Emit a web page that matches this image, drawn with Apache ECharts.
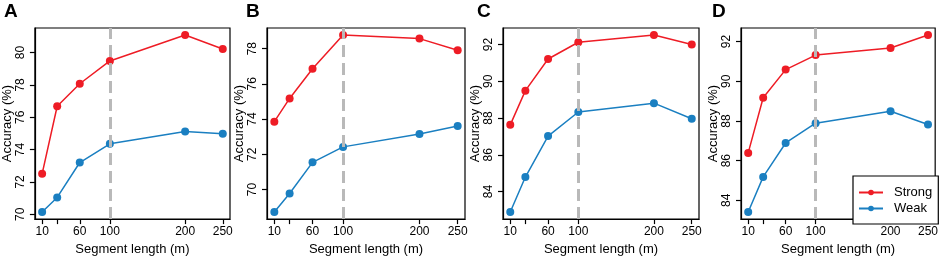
<!DOCTYPE html>
<html>
<head>
<meta charset="utf-8">
<script src="https://cdn.jsdelivr.net/npm/echarts@6/dist/echarts.min.js"></script>
<style>
  html, body { margin: 0; padding: 0; background: #fff; }
  #chart { width: 941px; height: 261px; }
</style>
</head>
<body>
<div id="chart"></div>
<script>
// segment lengths (m) on the x axis
const segLen = [10, 30, 60, 100, 200, 250]
const xTickValues = [10, 30, 60, 100, 200, 250]
const xLabelValues = [10, 60, 100, 200, 250]
const cutoff = 100

// accuracy (%) per panel
const strongA = [72.5, 76.68, 78.07, 79.48, 81.08, 80.22]
const weakA = [70.14, 71.04, 73.2, 74.36, 75.12, 74.98]
const strongB = [73.85, 75.17, 76.86, 78.77, 78.57, 77.91]
const weakB = [68.72, 69.77, 71.54, 72.42, 73.15, 73.6]
const strongC = [87.63, 89.49, 91.21, 92.12, 92.51, 92.0]
const weakC = [82.89, 84.79, 87.02, 88.33, 88.81, 87.96]
const strongD = [86.39, 89.17, 90.59, 91.32, 91.68, 92.33]
const weakD = [83.41, 85.18, 86.89, 87.89, 88.49, 87.82]

// y tick labels per panel
const yTicksA = [70, 72, 74, 76, 78, 80]
const yTicksB = [70, 72, 74, 76, 78]
const yTicksC = [84, 86, 88, 90, 92]
const yTicksD = [84, 86, 88, 90, 92]

const panelNames = ['A', 'B', 'C', 'D']

const panels = [
  { strong: strongA, weak: weakA, ticks: yTicksA, left: 32, width: 198, letterX: 4 },
  { strong: strongB, weak: weakB, ticks: yTicksB, left: 267, width: 198, letterX: 246 },
  { strong: strongC, weak: weakC, ticks: yTicksC, left: 503, width: 196, letterX: 477 },
  { strong: strongD, weak: weakD, ticks: yTicksD, left: 741, width: 196, letterX: 712 }
]

const RED = '#ee1c25'
const BLUE = '#1a7fc1'
const FONT = 'Liberation Sans, Arial, sans-serif'

// R style 4% padding around the data range
const pad = v => (v.max - v.min) * 0.04

const grids = []
const xAxes = []
const yAxes = []
const series = []
const graphics = []

panels.forEach((p, i) => {
  grids.push({
    left: p.left,
    top: 28,
    width: p.width,
    height: 196,
    show: true,
    borderColor: '#000',
    borderWidth: 1.2,
    backgroundColor: 'transparent'
  })
  xAxes.push({
    type: 'value',
    gridIndex: i,
    min: v => v.min - pad(v),
    max: v => v.max + pad(v),
    name: 'Segment length (m)',
    nameLocation: 'middle',
    nameGap: 20,
    nameTextStyle: { fontFamily: FONT, fontSize: 13, color: '#000' },
    splitLine: { show: false },
    axisLine: { show: true, onZero: false, lineStyle: { color: '#000', width: 1.2 } },
    axisTick: { show: true, length: 5, customValues: xTickValues, lineStyle: { color: '#000', width: 1.2 } },
    axisLabel: { customValues: xLabelValues, margin: 7, fontFamily: FONT, fontSize: 12, color: '#000' }
  })
  yAxes.push({
    type: 'value',
    gridIndex: i,
    min: v => v.min - pad(v),
    max: v => v.max + pad(v),
    name: 'Accuracy (%)',
    nameLocation: 'middle',
    nameGap: 16,
    nameTextStyle: { fontFamily: FONT, fontSize: 13, color: '#000' },
    splitLine: { show: false },
    axisLine: { show: true, onZero: false, lineStyle: { color: '#000', width: 1.2 } },
    axisTick: { show: true, length: 5, customValues: p.ticks, lineStyle: { color: '#000', width: 1.2 } },
    axisLabel: { customValues: p.ticks, rotate: 90, margin: 8, fontFamily: FONT, fontSize: 12, color: '#000' }
  })
  series.push({
    name: 'Strong',
    type: 'line',
    xAxisIndex: i,
    yAxisIndex: i,
    data: segLen.map((x, k) => [x, p.strong[k]]),
    symbol: 'circle',
    symbolSize: 8,
    itemStyle: { color: RED },
    lineStyle: { color: RED, width: 1.5 }
  })
  series.push({
    name: 'Weak',
    type: 'line',
    xAxisIndex: i,
    yAxisIndex: i,
    data: segLen.map((x, k) => [x, p.weak[k]]),
    symbol: 'circle',
    symbolSize: 8,
    itemStyle: { color: BLUE },
    lineStyle: { color: BLUE, width: 1.5 },
    markLine: {
      silent: true,
      symbol: 'none',
      label: { show: false },
      z: 10,
      lineStyle: { color: '#b9b9b9', width: 3, type: [12, 6] },
      data: [{ xAxis: cutoff }]
    }
  })
  graphics.push({
    type: 'text',
    left: p.letterX,
    top: 2,
    style: { text: panelNames[i], font: 'bold 19px ' + FONT, fill: '#000' }
  })
})

const chart = echarts.init(document.getElementById('chart'), null, { renderer: 'canvas' })
chart.setOption({
  animation: false,
  grid: grids,
  xAxis: xAxes,
  yAxis: yAxes,
  series,
  graphic: graphics,
  legend: {
    orient: 'vertical',
    left: 853,
    top: 176,
    padding: [10, 6, 9, 5],
    itemGap: 3,
    itemWidth: 24,
    itemHeight: 7,
    borderColor: '#000',
    borderWidth: 1.2,
    borderRadius: 0,
    backgroundColor: '#fff',
    textStyle: { fontFamily: FONT, fontSize: 13, color: '#000', padding: [0, 0, 0, 6] },
    data: ['Strong', 'Weak']
  }
})
</script>
</body>
</html>
